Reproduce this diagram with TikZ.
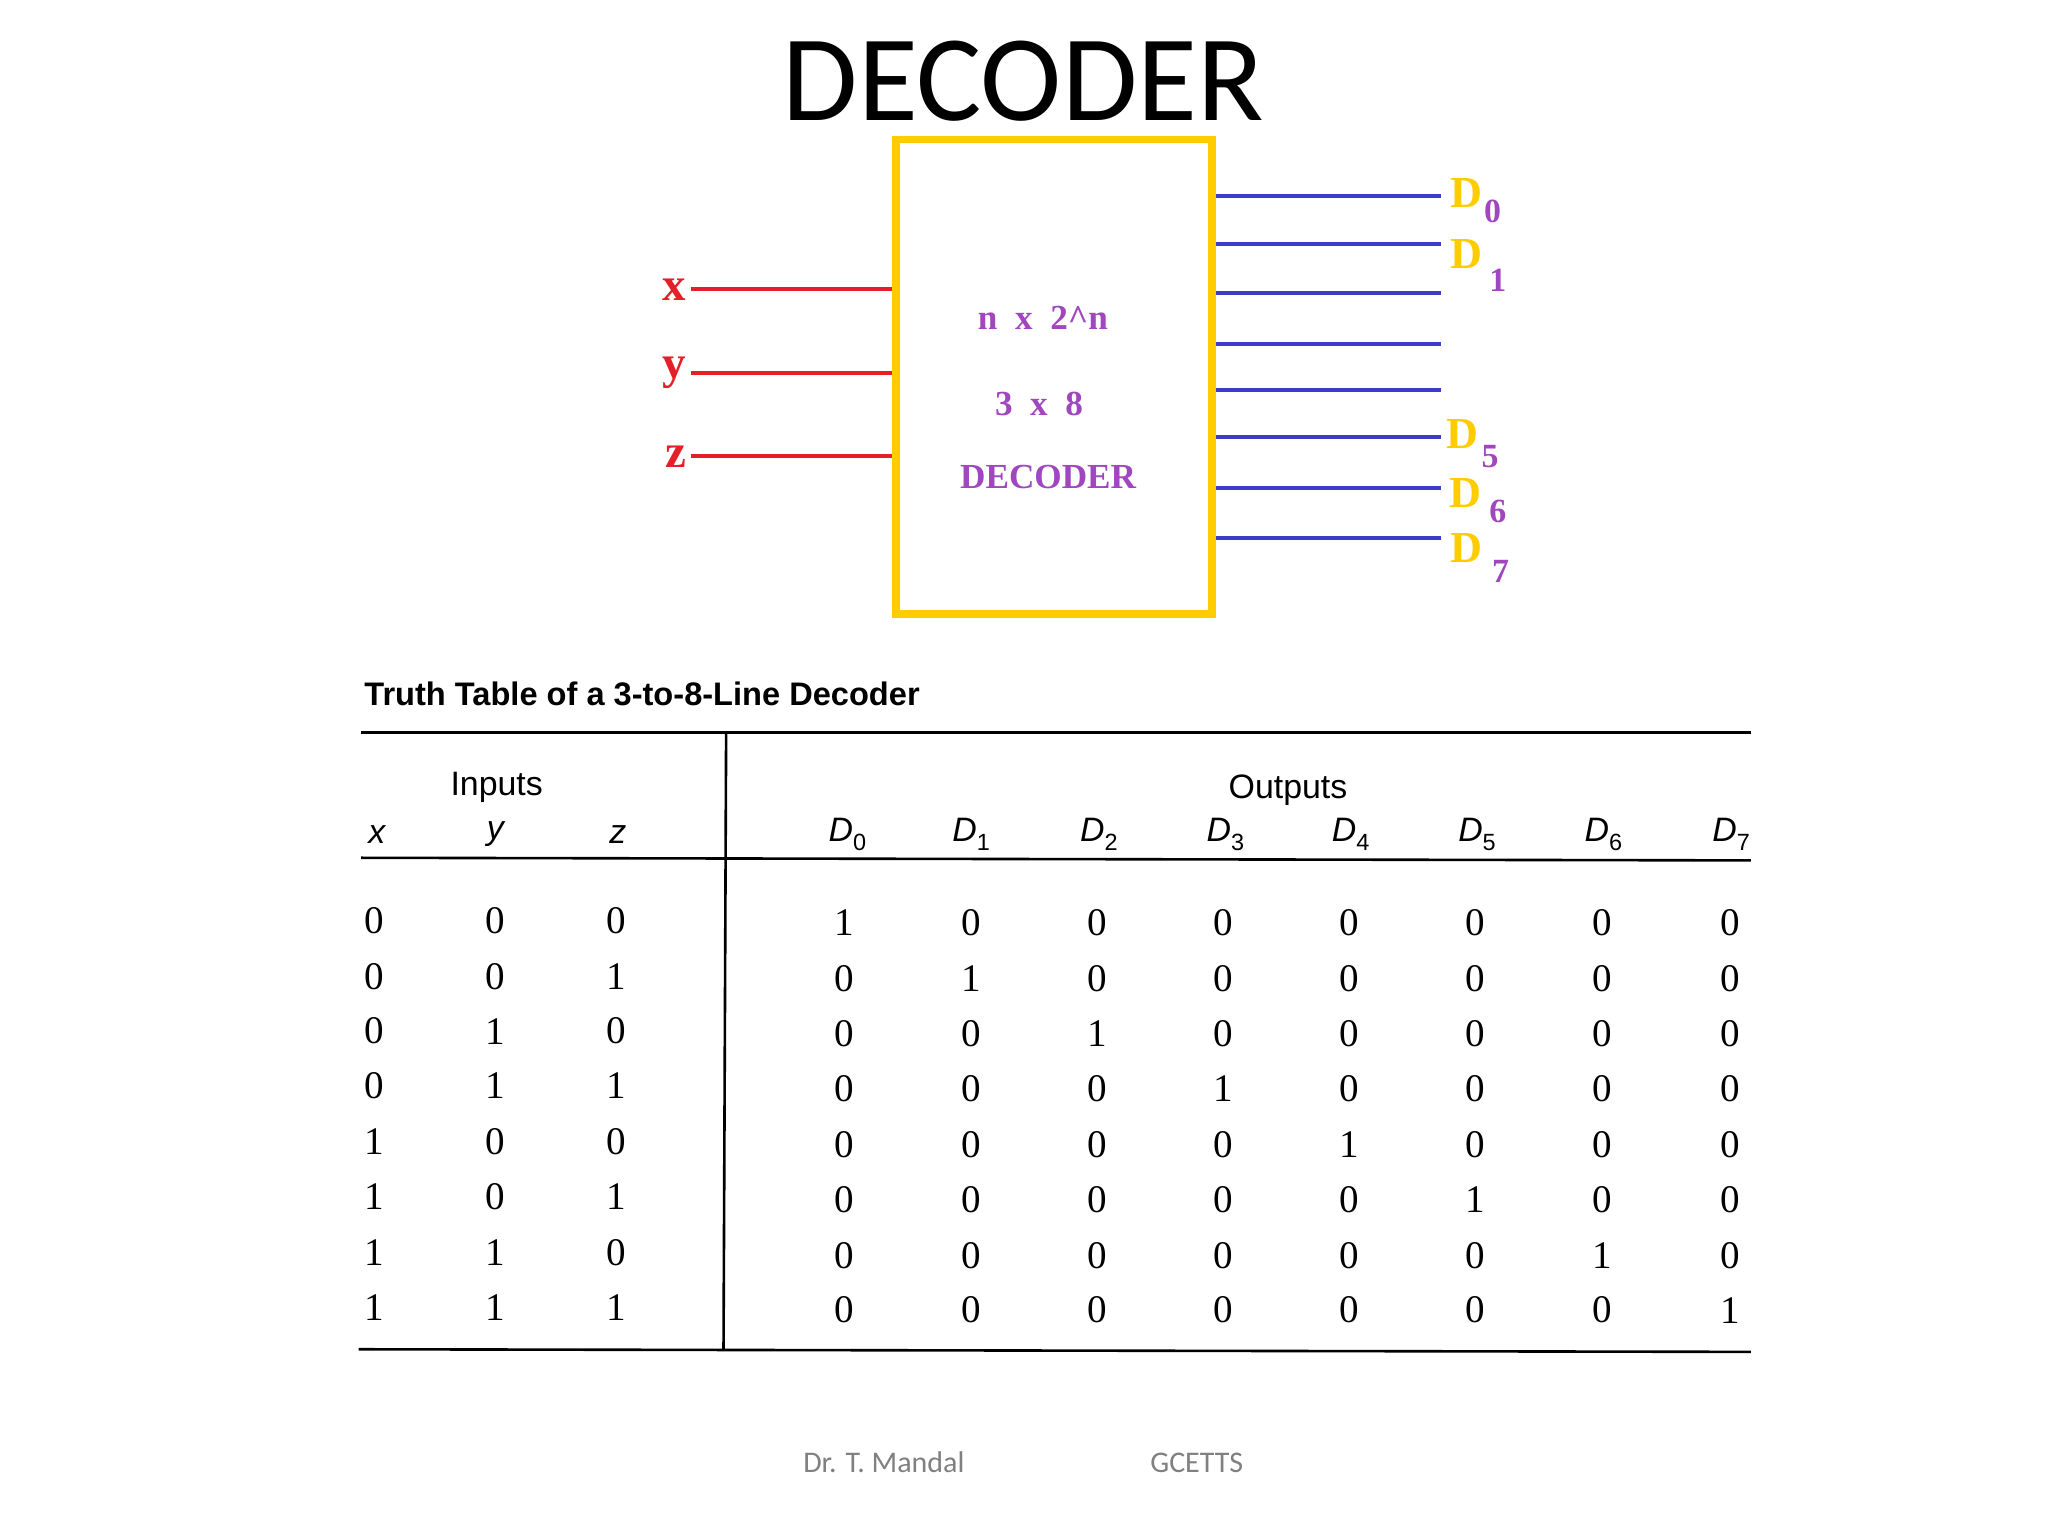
\documentclass[tikz,border=0pt]{standalone}
\usepackage{fontspec}
\setmainfont{Liberation Serif}
\newfontfamily\calfnt{Carlito}
\newfontfamily\hv{Liberation Sans}
\definecolor{yel}{RGB}{255,204,0}
\definecolor{pur}{RGB}{160,70,190}
\definecolor{rd}{RGB}{230,30,40}
\definecolor{bl}{RGB}{60,60,200}
\begin{document}
\begin{tikzpicture}[x=1pt,y=-1pt,
  inl/.style={rd,line width=3pt},
  outl/.style={bl,line width=3pt},
  num/.style={font=\fontsize{30}{30}\selectfont},
  hd/.style={font=\hv\itshape\fontsize{26}{26}\selectfont},
  rule/.style={line width=2pt}]
\useasboundingbox (0,0) rectangle (1571,1178);
\node[font=\calfnt\fontsize{94}{94}\selectfont] (title) at (785,62) {DECODER};
\node[draw=yel,line width=6pt,minimum width=243pt,minimum height=364pt,anchor=north west] (box) at (684,104) {};
\foreach \n/\y/\t in {x/222/x,y/286/y,z/350/z}{
  \coordinate (i\n) at (530,\y);
  \draw[inl] (i\n) -- (box.west |- i\n);
  \node[rd,font=\bfseries\fontsize{36}{36}\selectfont,anchor=east] (l\n) at (i\n) {\t};
}
\node[pur,font=\bfseries\fontsize{27}{27}\selectfont] (t1) at (800,244) {n\ \ x\ \ 2\textasciicircum n};
\node[pur,font=\bfseries\fontsize{27}{27}\selectfont] (t2) at (797,310) {3\ \ x\ \ 8};
\node[pur,font=\bfseries\fontsize{27}{27}\selectfont] (t3) at (804,366) {DECODER};
\foreach \i/\y in {0/150,1/187,2/225,3/264,4/299,5/335,6/374,7/413}{
  \coordinate (o\i) at (1105,\y);
  \draw[outl] (box.east |- o\i) -- (o\i);
}
\tikzset{dl/.style={yel,font=\bfseries\fontsize{34}{34}\selectfont},ds/.style={pur,font=\bfseries\fontsize{26}{26}\selectfont}}
\node[dl] (d0) at (1125,148) {D}; \node[ds] at (1145,162) {0};
\node[dl] (d1) at (1125,195) {D}; \node[ds] at (1149,215) {1};
\node[dl] (d5) at (1122,333) {D}; \node[ds] at (1143,350) {5};
\node[dl] (d6) at (1124,378) {D}; \node[ds] at (1149,392) {6};
\node[dl] (d7) at (1125,420) {D}; \node[ds] at (1151,438) {7};
% table
\node[font=\hv\bfseries\fontsize{25}{25}\selectfont,anchor=west] (tt) at (276,532) {Truth Table of a 3-to-8-Line Decoder};
\draw[rule] (277,562) -- (1343,562);
\draw[rule] (557,562) -- (555,1035);
\draw[rule] (277,658) -- (1343,660);
\draw[rule] (275,1035) -- (1343,1037);
\node[font=\hv\fontsize{26}{26}\selectfont] (inp) at (381,604) {Inputs};
\node[font=\hv\fontsize{26}{26}\selectfont] (outp) at (988,606) {Outputs};
\foreach \t/\x in {x/289,y/380,z/474}{\node[hd] at (\x,640) {\t};}
\foreach \i/\x in {0/650,1/745,2/843,3/940,4/1036,5/1133,6/1230,7/1328}{\node[hd] at (\x,640) {D\raisebox{-0.25em}{\fontsize{18}{18}\selectfont\upshape\i}};}
\foreach \r/\y in {0/706,1/749,2/791,3/833,4/876,5/918,6/961,7/1003}{
  \pgfmathtruncatemacro{\a}{div(\r,4)}
  \pgfmathtruncatemacro{\b}{mod(div(\r,2),2)}
  \pgfmathtruncatemacro{\c}{mod(\r,2)}
  \node[num] at (287,\y) {\a};
  \node[num] at (380,\y) {\b};
  \node[num] at (473,\y) {\c};
  \foreach \i/\x in {0/648,1/745,2/842,3/938,4/1035,5/1132,6/1229,7/1327}{
    \pgfmathtruncatemacro{\v}{\i==\r ? 1 : 0}
    \node[num] at (\x,\y+2) {\v};
  }
}
\node[gray,font=\calfnt\fontsize{23}{23}\selectfont] (f1) at (678,1122) {Dr. T. Mandal};
\node[gray,font=\calfnt\fontsize{23}{23}\selectfont] (f2) at (918,1122) {GCETTS};
\end{tikzpicture}
\end{document}
